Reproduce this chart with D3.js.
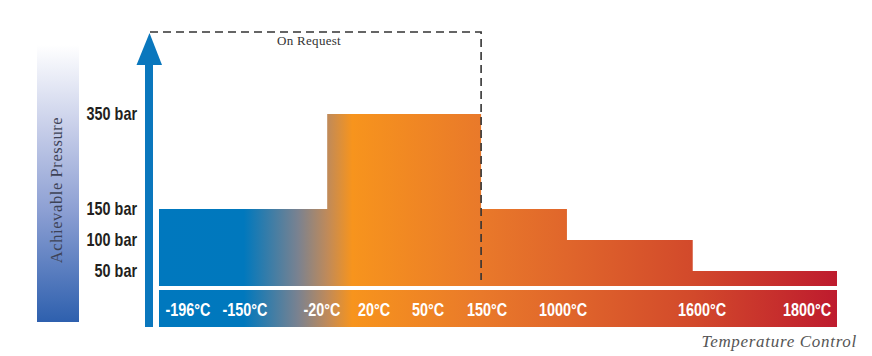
<!DOCTYPE html>
<html><head><meta charset="utf-8">
<script src="https://cdn.jsdelivr.net/npm/d3@7"></script>
<style>
html,body{margin:0;padding:0;background:#fff;}
svg{display:block;}
.lbl{font-family:"Liberation Sans",Arial,sans-serif;font-weight:bold;}
</style></head>
<body><svg id="c" width="872" height="356"></svg>
<script>
// ---- data ----
const pressureTicks = [50, 100, 150, 350];
const pressureLabels = ["50 bar", "100 bar", "150 bar", "350 bar"];
const tempTicks = [-196, -150, -20, 20, 50, 150, 1000, 1600, 1800];
const tempLabels = ["-196°C", "-150°C", "-20°C", "20°C", "50°C", "150°C", "1000°C", "1600°C", "1800°C"];
// bar segments: start temp, end temp, achievable pressure
const segStart = [-230, -16, 140, 1017, 1560];
const segEnd   = [-16, 140, 1017, 1560, 1850];
const segPressure = [150, 350, 150, 100, 50];
const onRequestPressure = 420;
const onRequestTemp = 140;

// ---- scales (piecewise, the original axis is not linear) ----
const x = d3.scaleLinear()
  .domain([-230, -196, -150, -20, 20, 50, 150, 1000, 1600, 1800, 1850])
  .range([159, 188, 245, 322, 374, 428, 487, 563, 702, 807, 837]);
const y = d3.scaleLinear()
  .domain([0, 50, 100, 150, 350, 420])
  .range([286, 271, 240, 209, 114, 32]);

const svg = d3.select("#c");
const defs = svg.append("defs");

// horizontal temperature gradient
const tg = defs.append("linearGradient").attr("id", "tg")
  .attr("gradientUnits", "userSpaceOnUse")
  .attr("x1", x(-230)).attr("x2", x(1850)).attr("y1", 0).attr("y2", 0);
[[0, "#0078be"], [0.125, "#0078bd"], [0.205, "#7a8290"], [0.248, "#bf8a5a"], [0.285, "#f7941d"],
 [0.475, "#e9792a"], [0.6, "#e0662b"], [0.79, "#d2492b"], [1, "#be1b2e"]]
  .forEach(([o, c]) => tg.append("stop").attr("offset", o).attr("stop-color", c));

// vertical pressure gradient
const pg = defs.append("linearGradient").attr("id", "pg")
  .attr("x1", 0).attr("x2", 0).attr("y1", 0).attr("y2", 1);
[[0, "#ffffff"], [0.3, "#c7cee9"], [0.6, "#8c9fd3"], [1, "#2e60ae"]]
  .forEach(([o, c]) => pg.append("stop").attr("offset", o).attr("stop-color", c));

// pressure label bar
svg.append("rect").attr("x", 37).attr("y", 45).attr("width", 42).attr("height", 277)
  .attr("fill", "url(#pg)");
svg.append("text")
  .attr("transform", "translate(62,190) rotate(-90)")
  .attr("text-anchor", "middle")
  .attr("font-family", "'Liberation Serif','DejaVu Serif',serif")
  .attr("font-size", 16.5).attr("letter-spacing", 0.6)
  .attr("fill", "#3d4256")
  .text("Achievable Pressure");

// bars as one stepped area
const steps = segStart.map((s, i) => ({t: s, p: segPressure[i]}));
steps.push({t: segEnd[segEnd.length - 1], p: segPressure[segPressure.length - 1]});
const area = d3.area().curve(d3.curveStepAfter)
  .x(d => x(d.t)).y0(y(0)).y1(d => y(d.p));
svg.append("path").datum(steps).attr("d", area).attr("fill", "url(#tg)");

// temperature band
svg.append("rect").attr("x", x(-230)).attr("width", x(1850) - x(-230))
  .attr("y", 290).attr("height", 37).attr("fill", "url(#tg)");
svg.append("g").selectAll("text").data(tempTicks).join("text")
  .attr("class", "lbl")
  .attr("transform", d => `translate(${x(d)},309) scale(0.8,1)`)
  .attr("text-anchor", "middle").attr("dominant-baseline", "central")
  .attr("font-size", 18).attr("fill", "#fff")
  .text((d, i) => tempLabels[i]);

// pressure labels
svg.append("g").selectAll("text").data(pressureTicks).join("text")
  .attr("class", "lbl")
  .attr("transform", d => `translate(137,${y(d) - 0.5}) scale(0.8,1)`)
  .attr("text-anchor", "end").attr("dominant-baseline", "central")
  .attr("font-size", 18).attr("fill", "#231f20")
  .text((d, i) => pressureLabels[i]);

// dashed on-request box
svg.append("path")
  .attr("d", `M${150},${y(onRequestPressure)}H${x(onRequestTemp)}V${y(0) - 6}`)
  .attr("fill", "none").attr("stroke", "#333").attr("stroke-width", 1.6)
  .attr("stroke-dasharray", "8,5");
svg.append("text").attr("x", 277).attr("y", 45)
  .attr("font-family", "'Liberation Serif','DejaVu Serif',serif")
  .attr("font-size", 13).attr("letter-spacing", 0.3).attr("fill", "#333")
  .text("On Request");

// arrow
svg.append("rect").attr("x", 145).attr("y", 60).attr("width", 8).attr("height", 267).attr("fill", "#0a77bd");
svg.append("path").attr("d", "M149.5,33L162,65L136.5,65Z").attr("fill", "#0a77bd");

// axis title
svg.append("text").attr("x", 857).attr("y", 347).attr("text-anchor", "end")
  .attr("font-family", "'Liberation Serif','DejaVu Serif',serif")
  .attr("font-style", "italic").attr("font-size", 17).attr("letter-spacing", 0.7)
  .attr("fill", "#555")
  .text("Temperature Control");
</script></body></html>
